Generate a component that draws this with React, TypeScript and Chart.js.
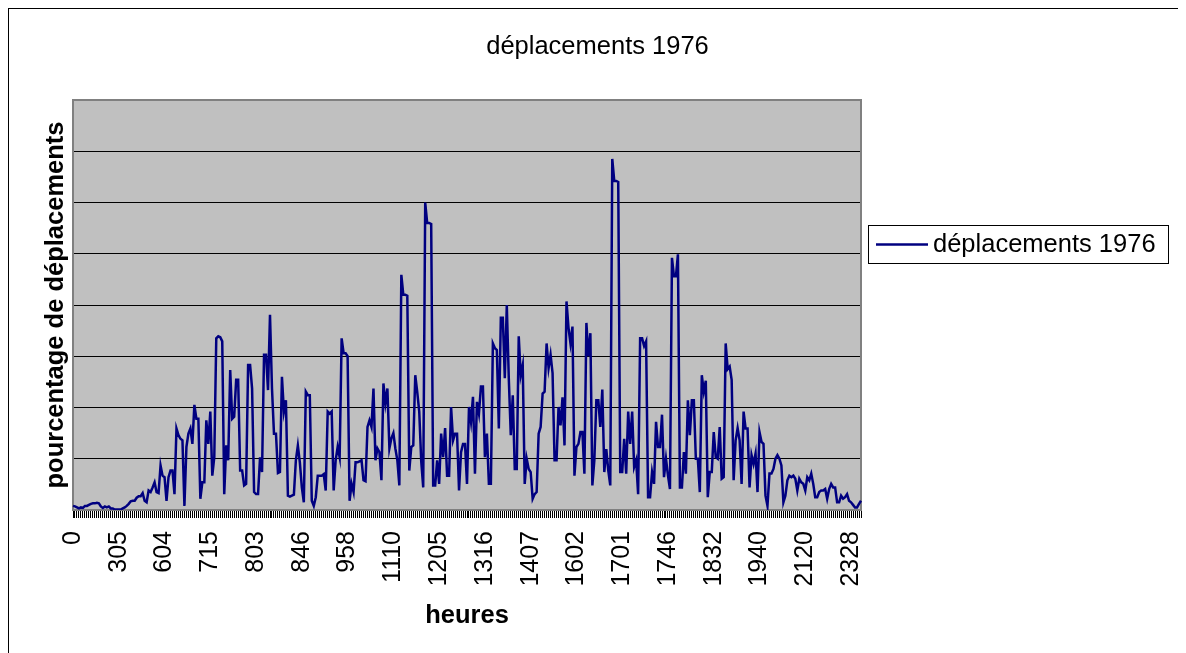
import React, { useEffect, useRef } from 'react';
import { Chart, registerables } from 'chart.js';

Chart.register(...registerables);

const chartTitle = 'déplacements 1976';
const seriesLabel = 'déplacements 1976';
const yTitle = 'pourcentage de déplacements';
const xTitle = 'heures';
const tickLabels = ['0', '305', '604', '715', '803', '846', '958', '1110', '1205', '1316', '1407', '1602', '1701', '1746', '1832', '1940', '2120', '2328'];
const labelEvery = 23;

const valuesNight = [
  0.08, 0.07, 0.05, 0.03, 0.05, 0.04, 0.08, 0.08, 0.1, 0.12,
  0.13, 0.13, 0.14, 0.13, 0.07, 0.04, 0.07, 0.05, 0.07, 0.03,
  0.03, 0.01, 0.01, 0.01, 0.01, 0.03, 0.05, 0.08, 0.12, 0.17,
  0.18, 0.18, 0.24, 0.27, 0.27, 0.33, 0.18, 0.15, 0.38, 0.35,
  0.44, 0.54, 0.35, 0.33, 0.87, 0.67, 0.64, 0.18, 0.64, 0.77,
  0.77, 0.31, 1.59, 1.46, 1.39, 1.36, 0.08, 1.23, 1.49, 1.59,
  1.29, 2.05, 1.78, 1.78, 0.22, 0.54, 0.54, 1.75, 1.29, 1.92,
  0.67, 1.03, 3.35, 3.39, 3.37, 3.29, 0.31, 1.26, 0.97,
];
const valuesMorning = [
  2.73, 1.78, 1.82, 2.54, 2.54, 0.77, 0.77, 0.48, 0.51, 2.83,
  2.83, 2.37, 0.35, 0.31, 0.31, 1.03, 0.74, 3.03, 3.03, 2.34,
  3.81, 2.37, 1.49, 1.49, 0.72, 0.74, 2.6, 1.92, 2.14, 0.28,
  0.26, 0.28, 0.3, 0.97, 1.26, 0.93, 0.44, 0.15, 2.31, 2.24,
  2.24, 0.18, 0.08, 0.25, 0.67, 0.67, 0.67, 0.7, 0.38, 1.92,
  1.88, 1.92, 0.38, 0.97, 1.23, 1.03, 3.35, 3.06, 3.06, 3.0,
  0.18, 0.51, 0.35, 0.93, 0.93, 0.95, 0.97, 0.58, 0.56, 1.62,
  1.75, 1.62, 2.37, 0.97, 1.2, 1.13, 0.58, 2.47, 2.08, 2.37,
];
const valuesMidday = [
  1.2, 1.4, 1.5, 1.2, 0.97, 0.48, 4.59, 4.2, 4.2, 4.18,
  0.77, 1.23, 1.26, 2.63, 2.3, 1.92, 0.95, 0.44, 6.0, 5.6,
  5.6, 5.58, 0.48, 0.48, 0.97, 0.51, 1.49, 1.03, 1.6, 0.67,
  0.67, 2.01, 1.36, 1.49, 1.49, 0.38, 1.13, 1.29, 1.29, 0.51,
  2.01, 1.72, 2.21, 0.71, 2.11, 1.88, 2.41, 2.41, 1.03, 1.49,
  0.51, 0.51, 3.25, 3.16, 3.12, 1.59, 3.75, 3.75, 2.57, 4.0,
  2.57, 1.46, 2.24, 0.8, 0.8, 3.39, 2.63, 2.83, 0.51, 1.0,
  0.8, 0.74, 0.22, 0.31, 0.35, 1.49, 1.62, 2.27, 2.31, 3.25,
];
const valuesAfternoon = [
  2.77, 3.03, 2.67, 0.97, 0.97, 2.01, 1.65, 2.2, 1.26, 4.07,
  3.56, 3.25, 3.58, 0.67, 1.23, 1.29, 1.52, 1.52, 0.71, 3.65,
  3.0, 3.45, 0.48, 0.97, 2.14, 2.14, 1.62, 2.35, 0.74, 1.19,
  0.77, 0.48, 6.85, 6.42, 6.42, 6.4, 0.74, 0.74, 1.39, 0.71,
  1.92, 1.29, 1.92, 0.84, 0.97, 0.31, 3.35, 3.35, 3.2, 3.29,
  0.25, 0.25, 0.74, 0.51, 1.72, 1.23, 1.23, 1.86, 0.64, 1.0,
  0.67, 0.41, 4.92, 4.56, 4.56, 4.99, 0.44, 0.44, 1.13, 0.71,
  2.14, 1.46, 2.14, 2.14, 1.0, 1.0, 0.35, 2.63, 2.31,
];
const valuesEvening = [
  2.52, 0.25, 0.74, 0.74, 1.52, 1.03, 1.0, 1.62, 0.61, 0.64,
  3.25, 2.75, 2.8, 2.54, 0.58, 1.36, 1.6, 1.36, 0.51, 1.92,
  1.59, 1.59, 0.44, 1.07, 0.9, 1.1, 0.35, 1.52, 1.33, 1.29,
  0.28, 0.08, 0.71, 0.71, 0.8, 1.0, 1.07, 1.0, 0.87, 0.15,
  0.28, 0.58, 0.67, 0.64, 0.67, 0.61, 0.38, 0.61, 0.54, 0.51,
  0.38, 0.64, 0.58, 0.71, 0.51, 0.25, 0.25, 0.35, 0.38, 0.38,
  0.41, 0.22, 0.41, 0.51, 0.44, 0.44, 0.15, 0.15, 0.28, 0.22,
  0.25, 0.31, 0.18, 0.15, 0.1, 0.05, 0.05, 0.12, 0.18,
];

const values = [...valuesNight, ...valuesMorning, ...valuesMidday, ...valuesAfternoon, ...valuesEvening];
const categories = values.map((_, i) =>
  i % labelEvery === 0 && tickLabels[i / labelEvery] !== undefined ? tickLabels[i / labelEvery] : ''
);

const FONT = "'Liberation Sans', Arial, sans-serif";
const LINE_COLOR = '#000080';
const CANVAS_W = 1177;
const CANVAS_H = 644;

const plotFrame = {
  id: 'plotFrame',
  beforeDraw(chart: any) {
    const { ctx, chartArea: a } = chart;
    ctx.save();
    ctx.fillStyle = '#fff';
    ctx.fillRect(0, 0, chart.width, chart.height);
    ctx.fillStyle = '#c0c0c0';
    ctx.fillRect(a.left, a.top, a.right - a.left, a.bottom - a.top);
    ctx.restore();
  },
  beforeDatasetsDraw(chart: any) {
    const { ctx, chartArea: a } = chart;
    ctx.save();
    ctx.strokeStyle = '#808080';
    ctx.lineWidth = 2;
    ctx.strokeRect(a.left, a.top, a.right - a.left, a.bottom - a.top);
    ctx.restore();
  },
};

const titleAndLegend = {
  id: 'titleAndLegend',
  afterDraw(chart: any) {
    const { ctx } = chart;
    ctx.save();
    ctx.fillStyle = '#000';
    ctx.font = `25.5px ${FONT}`;
    ctx.textBaseline = 'middle';
    ctx.textAlign = 'center';
    ctx.fillText(chartTitle, 588.5, 38);
    ctx.fillStyle = '#fff';
    ctx.fillRect(859.5, 216.5, 300, 38);
    ctx.strokeStyle = '#000';
    ctx.lineWidth = 1;
    ctx.strokeRect(859.5, 216.5, 300, 38);
    ctx.strokeStyle = LINE_COLOR;
    ctx.lineWidth = 2.5;
    ctx.beginPath();
    ctx.moveTo(867, 235.5);
    ctx.lineTo(919, 235.5);
    ctx.stroke();
    ctx.fillStyle = '#000';
    ctx.textAlign = 'left';
    ctx.fillText(seriesLabel, 924, 236);
    ctx.restore();
  },
};

export default function App() {
  const canvasRef = useRef<HTMLCanvasElement | null>(null);

  useEffect(() => {
    document.documentElement.style.overflow = 'hidden';
    document.body.style.overflow = 'hidden';
    if (!canvasRef.current) return;
    const chart = new Chart(canvasRef.current, {
      type: 'line',
      data: {
        labels: categories,
        datasets: [
          {
            label: seriesLabel,
            data: values,
            borderColor: LINE_COLOR,
            backgroundColor: LINE_COLOR,
            borderWidth: 2.5,
            pointRadius: 0,
            tension: 0,
            fill: false,
          },
        ],
      },
      options: {
        animation: false,
        responsive: false,
        devicePixelRatio: 1,
        layout: { padding: { left: 0, right: 325, top: 91, bottom: 0 } },
        plugins: {
          legend: { display: false },
          tooltip: { enabled: false },
          title: { display: false },
        },
        scales: {
          x: {
            type: 'category',
            ticks: {
              autoSkip: false,
              minRotation: 90,
              maxRotation: 90,
              color: '#000',
              padding: 13,
              font: { family: FONT, size: 25 },
            },
            grid: { drawOnChartArea: false, drawTicks: true, tickLength: 8, color: '#000', lineWidth: 1 },
            border: { display: true, color: '#000' },
            title: {
              display: true,
              text: xTitle,
              color: '#000',
              font: { family: FONT, size: 25.5, weight: 'bold' },
              padding: { top: 0, bottom: 22 },
            },
            afterFit: (s: any) => {
              s.height = 143;
            },
          },
          y: {
            min: 0,
            max: 8,
            ticks: { stepSize: 1, display: false },
            grid: { color: '#000', drawTicks: false, lineWidth: 1 },
            border: { display: false },
            title: {
              display: true,
              text: yTitle,
              color: '#000',
              font: { family: FONT, size: 25.5, weight: 'bold' },
              padding: { top: 32, bottom: 0 },
            },
            afterFit: (s: any) => {
              s.width = 64;
            },
          },
        },
      },
      plugins: [plotFrame, titleAndLegend],
    });
    return () => chart.destroy();
  }, []);

  return (
    <div
      style={{
        position: 'relative',
        width: 1230,
        height: 680,
        overflow: 'hidden',
        borderTop: '1px solid #000',
        borderLeft: '1px solid #000',
        boxSizing: 'border-box',
        background: '#fff',
      }}
    >
      <canvas ref={canvasRef} width={CANVAS_W} height={CANVAS_H} style={{ display: 'block' }} />
    </div>
  );
}
